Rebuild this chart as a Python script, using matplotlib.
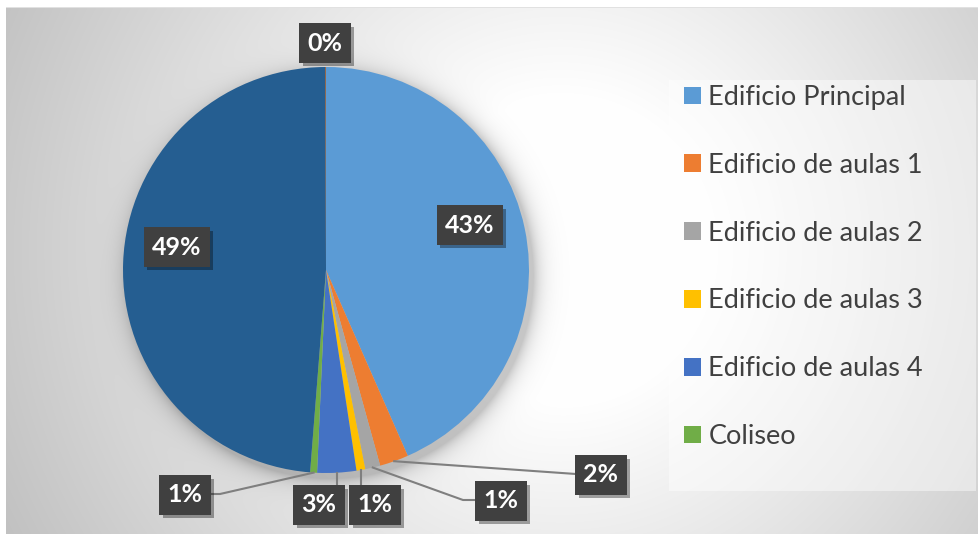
import numpy as np
import matplotlib
matplotlib.use("Agg")
import matplotlib.pyplot as plt
import matplotlib.patheffects as pe
from matplotlib.patches import Rectangle

# data (percent of total)
names = ["Edificio Principal", "Edificio de aulas 1", "Edificio de aulas 2",
         "Edificio de aulas 3", "Edificio de aulas 4", "Coliseo", "Otros", "Resto"]
values = [43.4, 2.3, 1.2, 0.7, 3.1, 0.55, 48.7, 0.05]
colors = ["#5B9BD5", "#ED7D31", "#A5A5A5", "#FFC000", "#4472C4", "#70AD47",
          "#255E91", "#9E480E"]
n_legend = 6

W, H = 979, 534
cx, cy, R = 326, 270, 203  # image pixel coords (y down)

# label box centres (image px) and leader line layout
label_pos = [(470, 225), (601, 475), (501, 501), (375, 505), (319, 505),
             (185, 495), (177, 247), (325, 43)]
leader = [None, "straight", "elbow", "vertical", "vertical", "elbow", None, None]
leader_end = [None, (576, 474), (476, 500), None, None, (210, 494), None, None]
elbow_pt = [None, None, (463, 500), None, None, (220, 494), None, None]

plt.rcParams['font.family'] = ['Lato', 'DejaVu Sans']

fig = plt.figure(figsize=(W / 100, H / 100), dpi=100)
ax = fig.add_axes([0, 0, 1, 1])
ax.set_xlim(0, W)
ax.set_ylim(0, H)
ax.axis("off")

# background: radial grey gradient + soft pie shadow
yy, xx = np.mgrid[0:H, 0:W]
d = np.hypot(xx - 560, yy - 250)
g = 255 - np.clip((d - 150) / 450, 0, None) * 59
dp = np.hypot(xx - (cx + 4), yy - (cy + 5)) - R
shadow = np.where(dp > 0, 0.22 * np.exp(-dp / 9), 0.22)
g = g * (1 - shadow)
g[:7, :] = 255
g[:, :6] = 255
g[7, 6:] = 225
bg = np.dstack([g, g, g]) / 255.0
ax.imshow(bg, extent=[0, W, 0, H], origin="upper", zorder=0, aspect="auto")

# legend panel
ax.add_patch(Rectangle((669, H - 491), 976 - 669, 491 - 80, facecolor="white",
                       alpha=0.45, edgecolor="none", zorder=1))

wedges, _ = ax.pie(values, colors=colors, startangle=90, counterclock=False,
                   center=(cx, H - cy), radius=R, frame=True,
                   wedgeprops=dict(linewidth=0))
for w in wedges:
    w.set_zorder(2)
ax.set_xlim(0, W)
ax.set_ylim(0, H)
ax.axis("off")

# data labels
total = sum(values)
ang = 0.0
for i, v in enumerate(values):
    mid = np.radians((ang + v / 2) / total * 360)
    ang += v
    sx = cx + R * np.sin(mid)
    sy = cy - R * np.cos(mid)
    lx, ly = label_pos[i]
    kind = leader[i]
    if kind == "straight":
        ex, ey = leader_end[i]
        ax.plot([sx, ex], [H - sy, H - ey], color="#7F7F7F", lw=1.5, zorder=3)
    elif kind == "elbow":
        ex, ey = leader_end[i]
        bx, by = elbow_pt[i]
        ax.plot([sx, bx, ex], [H - sy, H - by, H - ey], color="#7F7F7F",
                lw=1.5, zorder=3)
    elif kind == "vertical":
        ax.plot([sx, sx], [H - sy, H - (ly - 20)], color="#7F7F7F", lw=1.5,
                zorder=3)
    pct = int(v / total * 100 + 0.5)
    t = ax.text(lx, H - ly, f"{pct}%", ha="center", va="center", color="white",
                fontsize=18, fontweight="bold", zorder=5,
                bbox=dict(boxstyle="square,pad=0.33", fc="#404040", ec="none"))
    t.get_bbox_patch().set_path_effects([
        pe.SimplePatchShadow(offset=(2.5, -2.5), shadow_rgbFace="black", alpha=0.35),
        pe.Normal()])

leg = ax.legend(wedges[:n_legend], names[:n_legend], loc="upper left",
                bbox_to_anchor=(684, H - 85), bbox_transform=ax.transData,
                frameon=False, fontsize=19.5, labelcolor="#404040",
                handlelength=0.63, handleheight=0.63, handletextpad=0.27,
                labelspacing=1.58, borderpad=0, borderaxespad=0)
leg.set_zorder(6)

fig.savefig("out.png", dpi=100)
